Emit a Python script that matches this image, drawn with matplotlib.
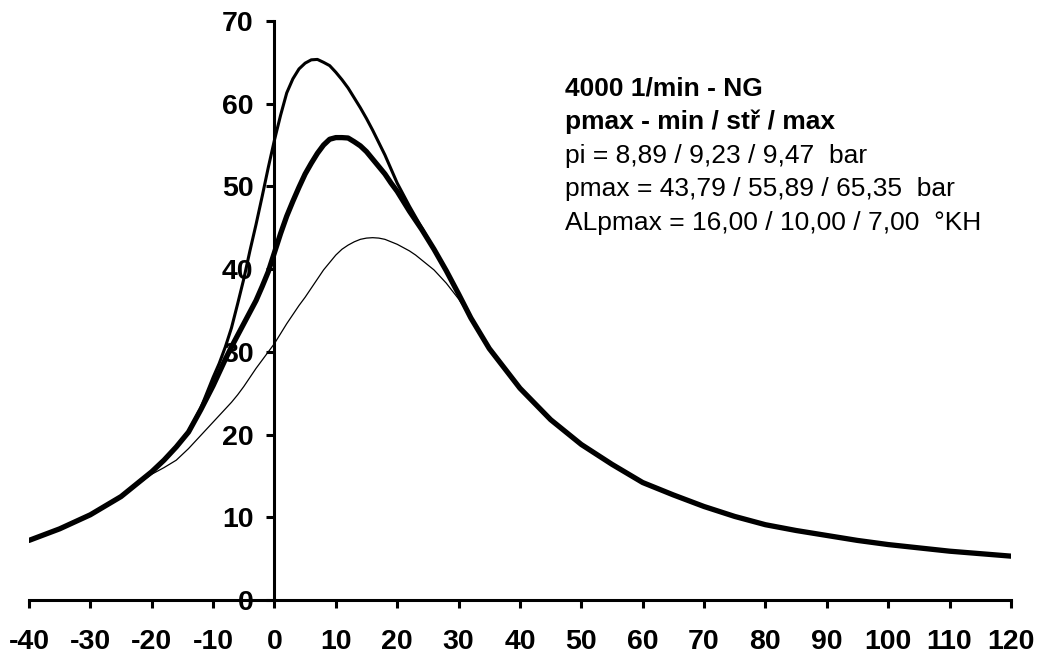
import matplotlib
matplotlib.use("Agg")
import matplotlib.pyplot as plt

plt.rcParams['font.family'] = ['Liberation Sans', 'DejaVu Sans']
plt.rcParams['axes.unicode_minus'] = False

# crank angle [°KH]
angle = [-40, -35, -30, -25, -20, -18, -16, -14, -12,
         -10, -9, -8, -7, -6, -5, -4, -3, -2, -1,
         0, 1, 2, 3, 4, 5, 6, 7, 8, 9, 10, 11, 12, 13, 14, 15, 16, 17, 18, 19,
         20, 21, 22, 23, 24, 26, 28, 30, 32,
         35, 40, 45, 50, 55, 60, 65, 70, 75, 80, 85, 90, 95, 100, 105, 110, 115, 120]

# pressure [bar] - min / mid / max cycle
p_min = [7.2, 8.6, 10.3, 12.5, 15.2, 16.0, 16.9, 18.3, 19.9,
         21.5, 22.3, 23.1, 23.9, 24.8, 25.8, 26.9, 28.0, 29.0, 30.0,
         31.0, 32.2, 33.4, 34.5, 35.6, 36.6, 37.7, 38.8, 39.9, 40.8, 41.7, 42.4, 42.9, 43.3, 43.6, 43.75, 43.8, 43.75, 43.6, 43.3,
         43.0, 42.6, 42.2, 41.7, 41.1, 39.9, 38.3, 36.4, 34.1,
         30.4, 25.6, 21.8, 18.8, 16.4, 14.2, 12.7, 11.3, 10.1, 9.1, 8.4, 7.8, 7.2, 6.7, 6.3, 5.9, 5.6, 5.3]
p_mid = [7.2, 8.6, 10.3, 12.5, 15.5, 16.9, 18.5, 20.3, 23.0,
         25.9, 27.5, 29.1, 30.6, 32.0, 33.4, 34.8, 36.2, 37.9, 39.7,
         42.0, 44.3, 46.4, 48.2, 49.9, 51.5, 52.8, 54.0, 55.0, 55.7, 55.9, 55.9, 55.85, 55.4, 54.9, 54.2, 53.3, 52.4, 51.5, 50.4,
         49.4, 48.2, 47.0, 45.9, 44.8, 42.4, 39.8, 37.0, 34.1,
         30.4, 25.6, 21.8, 18.8, 16.4, 14.2, 12.7, 11.3, 10.1, 9.1, 8.4, 7.8, 7.2, 6.7, 6.3, 5.9, 5.6, 5.3]
p_max = [7.2, 8.6, 10.3, 12.5, 15.5, 16.9, 18.5, 20.4, 23.2,
         26.9, 28.6, 30.6, 32.9, 35.8, 38.8, 42.2, 45.4, 48.8, 52.3,
         55.6, 58.6, 61.3, 63.0, 64.2, 64.9, 65.3, 65.35, 65.0, 64.6, 63.8, 62.9, 61.9, 60.7, 59.5, 58.2, 56.8, 55.3, 53.8, 52.1,
         50.4, 49.0, 47.6, 46.3, 45.0, 42.4, 39.8, 37.0, 34.1,
         30.4, 25.6, 21.8, 18.8, 16.4, 14.2, 12.7, 11.3, 10.1, 9.1, 8.4, 7.8, 7.2, 6.7, 6.3, 5.9, 5.6, 5.3]

x_ticks = list(range(-40, 121, 10))
y_ticks = list(range(0, 71, 10))

fig = plt.figure(figsize=(10.38, 6.55), dpi=100)
ax = fig.add_axes([0.0279, 0.084, 0.946, 0.884])

ax.plot(angle, p_min, color='black', lw=0.9, solid_joinstyle='round')
ax.plot(angle, p_mid, color='black', lw=3.8, solid_joinstyle='round', solid_capstyle='round')
ax.plot(angle, p_max, color='black', lw=2.2, solid_joinstyle='round', solid_capstyle='round')

ax.set_xlim(-40, 120)
ax.set_ylim(0, 70)
ax.set_xticks(x_ticks)
ax.set_yticks(y_ticks)

ax.spines['left'].set_position(('data', 0))
ax.spines['bottom'].set_position(('data', 0))
ax.spines['top'].set_visible(False)
ax.spines['right'].set_visible(False)
for s in ['left', 'bottom']:
    ax.spines[s].set_linewidth(2.2)

ax.tick_params(axis='both', direction='out', length=6, width=2.2, labelsize=20.5)
ax.tick_params(axis='x', pad=15)
ax.tick_params(axis='y', pad=9)
for lab in ax.get_xticklabels() + ax.get_yticklabels():
    lab.set_fontweight('bold')

# info block
lines = [
    ('4000 1/min - NG', 'bold'),
    ('pmax - min / stř / max', 'bold'),
    ('pi = 8,89 / 9,23 / 9,47  bar', 'normal'),
    ('pmax = 43,79 / 55,89 / 65,35  bar', 'normal'),
    ('ALpmax = 16,00 / 10,00 / 7,00  °KH', 'normal'),
]
y0 = 0.872
for i, (txt, w) in enumerate(lines):
    ax.text(0.546, y0 - i * 0.0583, txt, transform=ax.transAxes,
            fontsize=19, fontweight=w, va='baseline', ha='left')

fig.savefig('out.png', dpi=100)
